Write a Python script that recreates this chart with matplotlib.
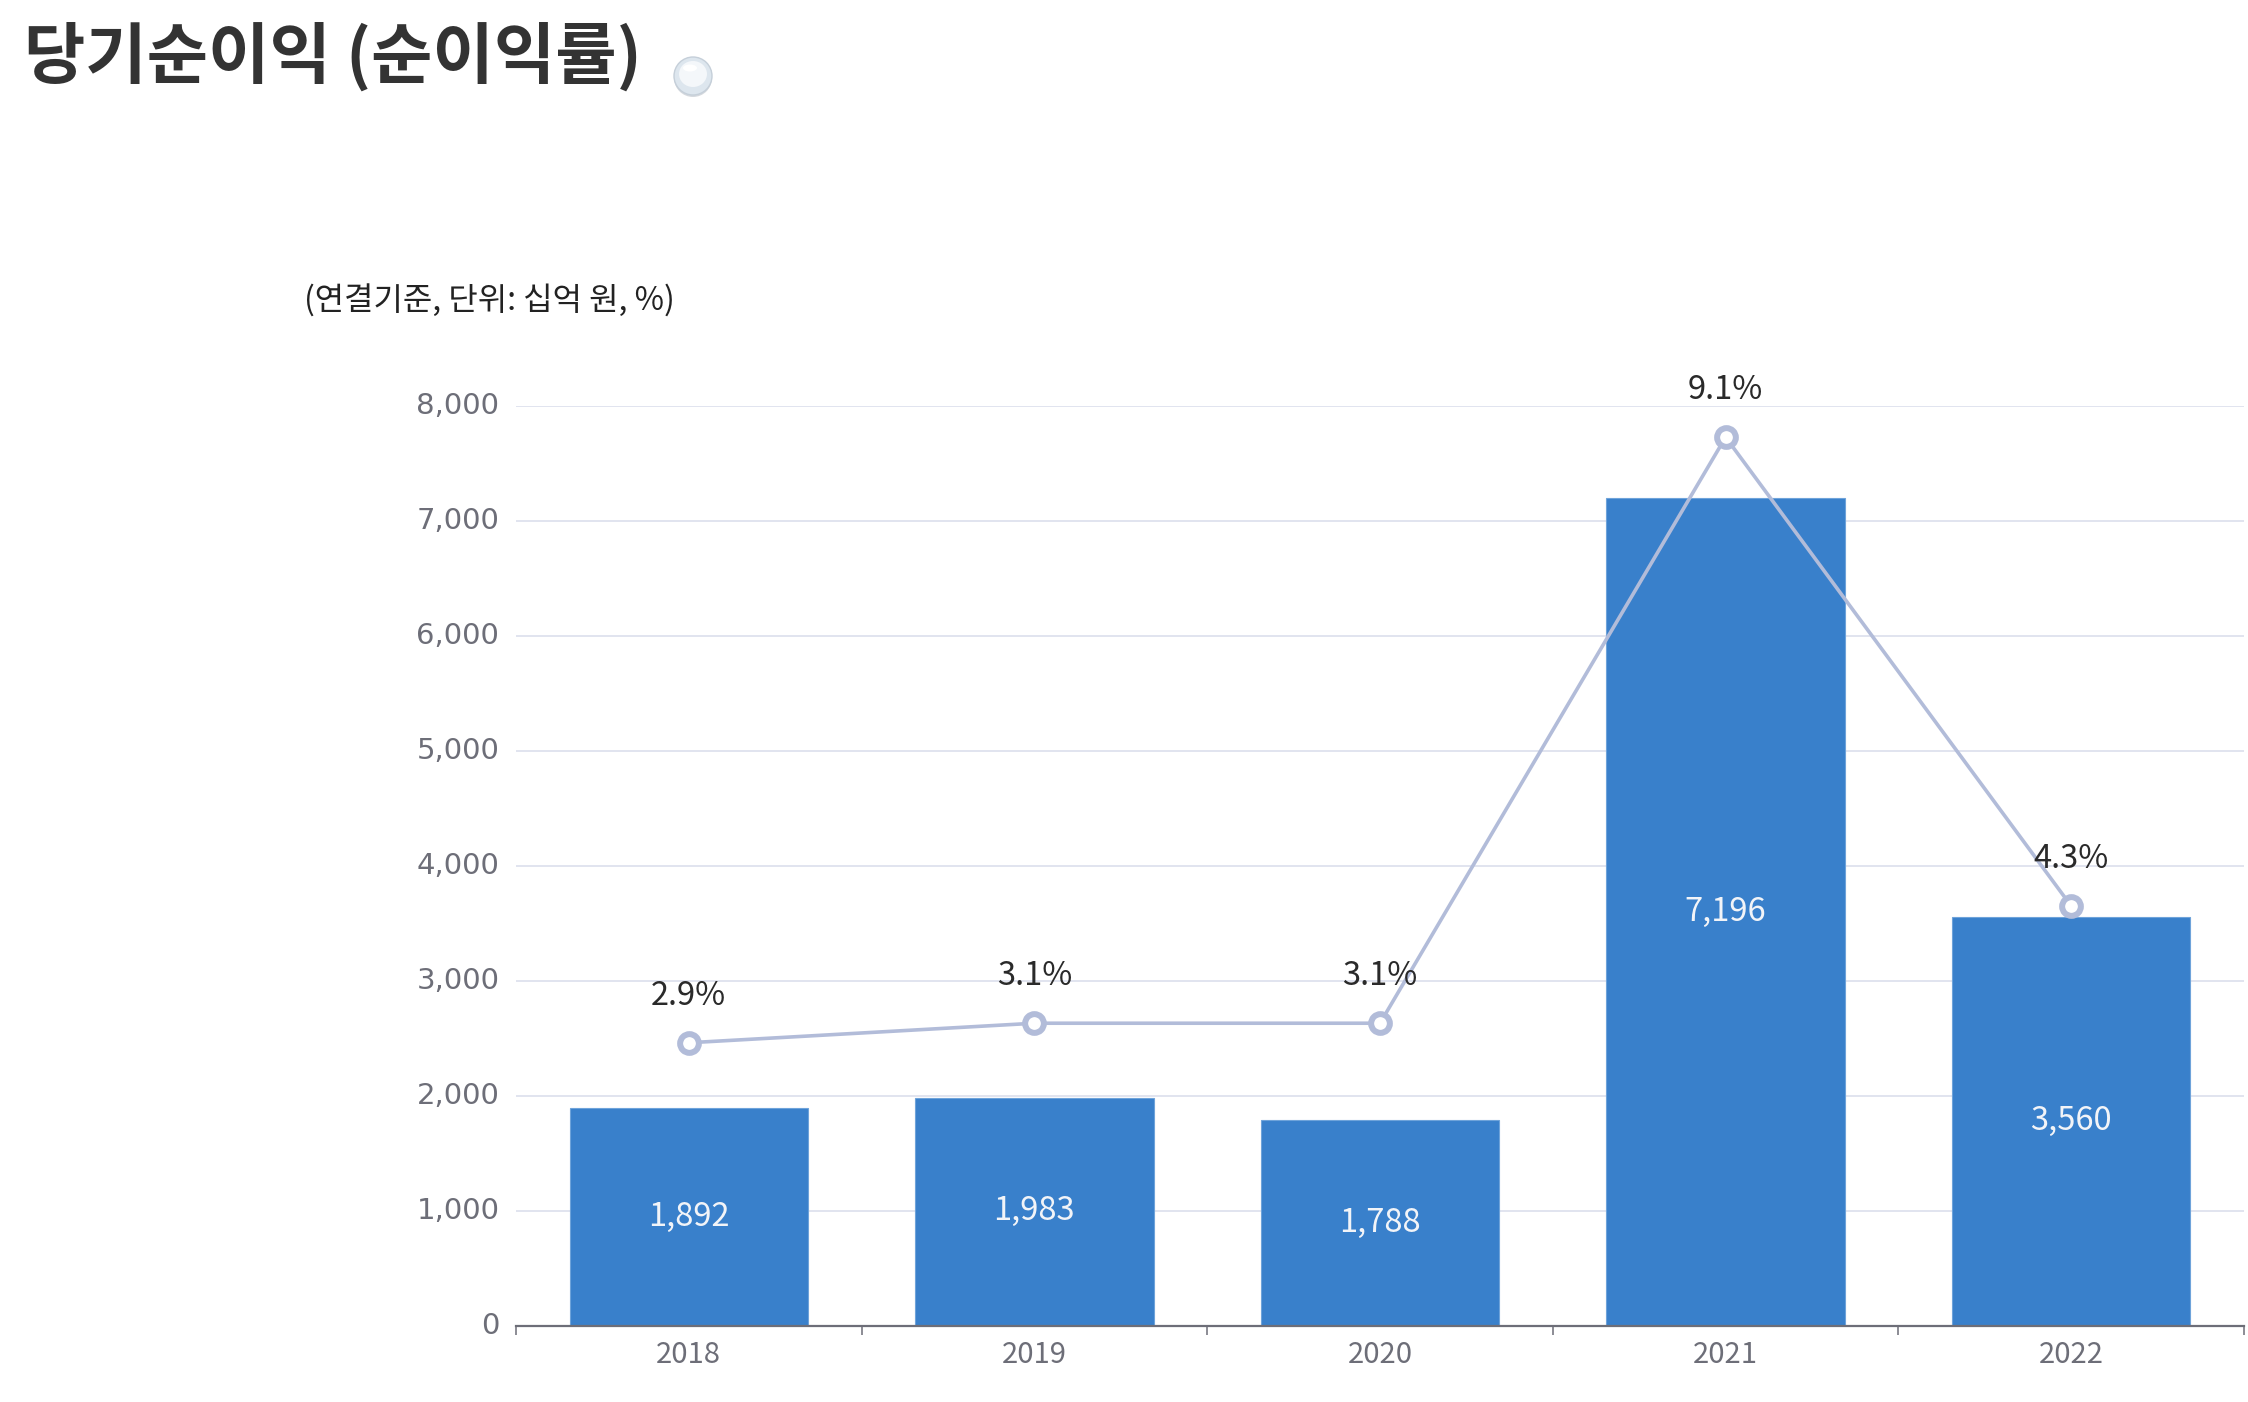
import matplotlib
matplotlib.use("Agg")
import matplotlib.pyplot as plt
import matplotlib.transforms as mtransforms
from matplotlib.patches import Ellipse
from matplotlib.ticker import FixedLocator, FuncFormatter

plt.rcParams['font.family'] = ['Noto Sans CJK KR', 'DejaVu Sans']

# ---- data ----
years = ['2018', '2019', '2020', '2021', '2022']
net_income = [1892, 1983, 1788, 7196, 3560]
margin = [2.9, 3.1, 3.1, 9.1, 4.3]
y_ticks = [0, 1000, 2000, 3000, 4000, 5000, 6000, 7000, 8000]

title = '당기순이익 (순이익률)'
subtitle = '(연결기준, 단위: 십억 원, %)'

BAR = '#3980cb'
LINE = '#b2bcd9'
GRID = '#dcdfec'
TICK = '#6d6e78'

W, H = 2248, 1402
fig = plt.figure(figsize=(W / 100, H / 100), dpi=100)
fig.patch.set_facecolor('white')

ax = fig.add_axes([516 / W, 1 - 1326 / H, (2244 - 516) / W, (1326 - 406) / H])
x = list(range(len(years)))

ax.bar(x, net_income, width=0.69, color=BAR, edgecolor='#6ea3da', linewidth=0.8, zorder=2)
ax.set_xlim(-0.5, len(years) - 0.5)
ax.set_ylim(0, 8000)
ax.yaxis.set_major_locator(FixedLocator(y_ticks))
ax.yaxis.set_major_formatter(FuncFormatter(lambda v, p: f'{int(v):,}'))
ax.set_axisbelow(True)
ax.grid(axis='y', color=GRID, linewidth=1.2, zorder=0)
ax.grid(axis='x', visible=False)
for s in ['top', 'right', 'left']:
    ax.spines[s].set_visible(False)
ax.spines['bottom'].set_color(TICK)
ax.spines['bottom'].set_linewidth(1.6)
ax.spines['bottom'].set_zorder(3)

ax.tick_params(axis='y', length=0, pad=12, labelsize=21, labelcolor=TICK)
shift = mtransforms.ScaledTranslation(0, 3 / 100, fig.dpi_scale_trans)
for lab in ax.get_yticklabels():
    lab.set_family(['DejaVu Sans'])
    lab.set_transform(lab.get_transform() + shift)
ax.set_xticks(x)
ax.set_xticklabels(years)
ax.tick_params(axis='x', which='major', length=0, pad=10, labelsize=21, labelcolor=TICK)
ax.set_xticks([i - 0.5 for i in range(len(years) + 1)], minor=True)
ax.tick_params(axis='x', which='minor', length=6.5, width=1.1, color=TICK, direction='out')

for xi, v in zip(x, net_income):
    ax.annotate(f'{v:,}', xy=(xi, v / 2), xytext=(0, -6), textcoords='offset points',
                ha='center', va='baseline', fontsize=23.5, color='#f2f4f8', zorder=4)

ax2 = ax.twinx()
ax2.set_ylim(0, 920 / 97.67)
ax2.axis('off')
ax2.plot(x, margin, color=LINE, linewidth=2.6, marker='o', markersize=13.5,
         markerfacecolor='white', markeredgecolor=LINE, markeredgewidth=4.3, zorder=3,
         clip_on=False)
for xi, m in zip(x, margin):
    ax2.annotate(f'{m:.1f}%', xy=(xi, m), xytext=(0, 27.5), textcoords='offset points',
                 ha='center', va='baseline', fontsize=23.5, color='#2a2a2a', zorder=5,
                 annotation_clip=False)

# ---- title & subtitle ----
fig.text(24 / W, 1 - 57 / H, title, ha='left', va='center', fontsize=48,
         fontweight='heavy', color='#333333')
fig.text(304 / W, 1 - 301 / H, subtitle, ha='left', va='center', fontsize=23,
         color='#222222')

# decorative bubble icon next to the title
cx, cy, r = 693 / W, 1 - 76 / H, 19
fig.patches.append(Ellipse((cx, cy - 2 / H), 2 * r / W, 2 * r / H, transform=fig.transFigure,
                           facecolor='#b9c0c8', edgecolor='none', alpha=0.6))
fig.patches.append(Ellipse((cx, cy), 2 * r / W, 2 * r / H, transform=fig.transFigure,
                           facecolor='#dde6ee', edgecolor='#c5cfd9', linewidth=1))
fig.patches.append(Ellipse((cx, cy + 2 / H), 2 * (r - 5) / W, 2 * (r - 6) / H, transform=fig.transFigure,
                           facecolor='#f4f7fa', edgecolor='none'))
fig.patches.append(Ellipse((cx - 3 / W, cy + 8 / H), 14 / W, 7 / H, transform=fig.transFigure,
                           facecolor='white', edgecolor='none'))

fig.savefig('out.png', dpi=100, facecolor='white')
